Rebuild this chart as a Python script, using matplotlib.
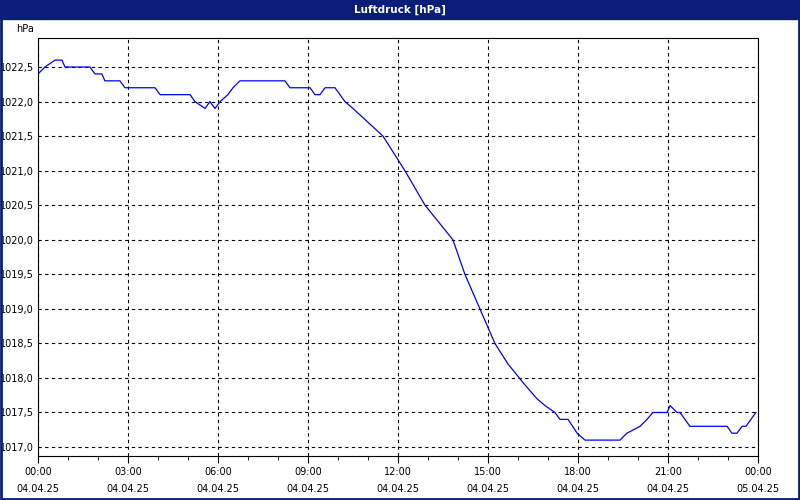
import matplotlib.pyplot as plt
import matplotlib.ticker as mticker
import numpy as np

# Stunden ab 04.04.25 00:00 und Luftdruck [hPa]
hours = [0, 0.23, 0.57, 0.8, 0.9, 1.73, 1.9, 2.13, 2.23, 2.73, 2.9, 3.9, 4.07, 5.07,
         5.23, 5.57, 5.73, 5.9, 6.07, 6.33, 6.5, 6.73, 8.23, 8.4, 9.07, 9.23, 9.4,
         9.57, 9.9, 10.23, 10.5, 11.0, 11.5, 12.23, 12.9, 13.83, 14.23, 14.73, 15.23,
         15.67, 16.23, 16.63, 16.9, 17.23, 17.4, 17.67, 17.97, 18.23, 19.4, 19.63,
         20.07, 20.3, 20.5, 20.97, 21.07, 21.3, 21.4, 21.73, 22.97, 23.13, 23.3,
         23.47, 23.6, 23.93]
druck = [1022.4, 1022.5, 1022.6, 1022.6, 1022.5, 1022.5, 1022.4, 1022.4, 1022.3, 1022.3,
         1022.2, 1022.2, 1022.1, 1022.1, 1022.0, 1021.9, 1022.0, 1021.9, 1022.0, 1022.1,
         1022.2, 1022.3, 1022.3, 1022.2, 1022.2, 1022.1, 1022.1, 1022.2, 1022.2, 1022.0,
         1021.9, 1021.7, 1021.5, 1021.0, 1020.5, 1020.0, 1019.5, 1019.0, 1018.5, 1018.2,
         1017.9, 1017.7, 1017.6, 1017.5, 1017.4, 1017.4, 1017.2, 1017.1, 1017.1, 1017.2,
         1017.3, 1017.4, 1017.5, 1017.5, 1017.6, 1017.5, 1017.5, 1017.3, 1017.3, 1017.2,
         1017.2, 1017.3, 1017.3, 1017.5]
xlabels = ["00:00\n04.04.25", "03:00\n04.04.25", "06:00\n04.04.25", "09:00\n04.04.25",
           "12:00\n04.04.25", "15:00\n04.04.25", "18:00\n04.04.25", "21:00\n04.04.25",
           "00:00\n05.04.25"]

fig = plt.figure(figsize=(8, 5), dpi=100, facecolor='white')
# Titelleiste
fig.patches.append(plt.Rectangle((0, 1 - 19/500), 1, 19/500, transform=fig.transFigure,
                                 color='#0a1e78', zorder=0))
fig.patches.append(plt.Rectangle((0.001, 0.002), 0.998, 0.996, transform=fig.transFigure,
                                 fill=False, edgecolor='#0a1e78', linewidth=2))
fig.text(0.5, 1 - 9.5/500, "Luftdruck [hPa]", color='white', fontsize=7.5,
         fontweight='bold', ha='center', va='center', family='DejaVu Sans')

ax = fig.add_axes([38/800, 1 - 456/500, 720/800, 418/500])
ax.plot(hours, druck, color='blue', linewidth=0.9)
ax.set_xlim(0, 24)
ax.set_ylim(1016.87, 1022.92)
ax.set_xticks(np.arange(0, 25, 3))
ax.set_xticklabels(xlabels, fontsize=7, linespacing=1.9)
ax.xaxis.set_minor_locator(mticker.MultipleLocator(1))
ax.set_yticks(np.arange(1017.0, 1022.51, 0.5))
ax.yaxis.set_major_formatter(mticker.FuncFormatter(lambda v, p: f"{v:.1f}".replace('.', ',')))
ax.tick_params(axis='y', labelsize=7, length=0, pad=3)
ax.tick_params(axis='x', which='major', length=5, pad=3)
ax.tick_params(axis='x', which='minor', length=3)
ax.grid(True, color='black', linestyle=(0, (3, 3)), linewidth=0.8)
for s in ax.spines.values():
    s.set_linewidth(0.8)
ax.text(-0.005, 1.01, "hPa", transform=ax.transAxes, fontsize=7, ha='right', va='bottom')

fig.savefig("out.png", dpi=100)
